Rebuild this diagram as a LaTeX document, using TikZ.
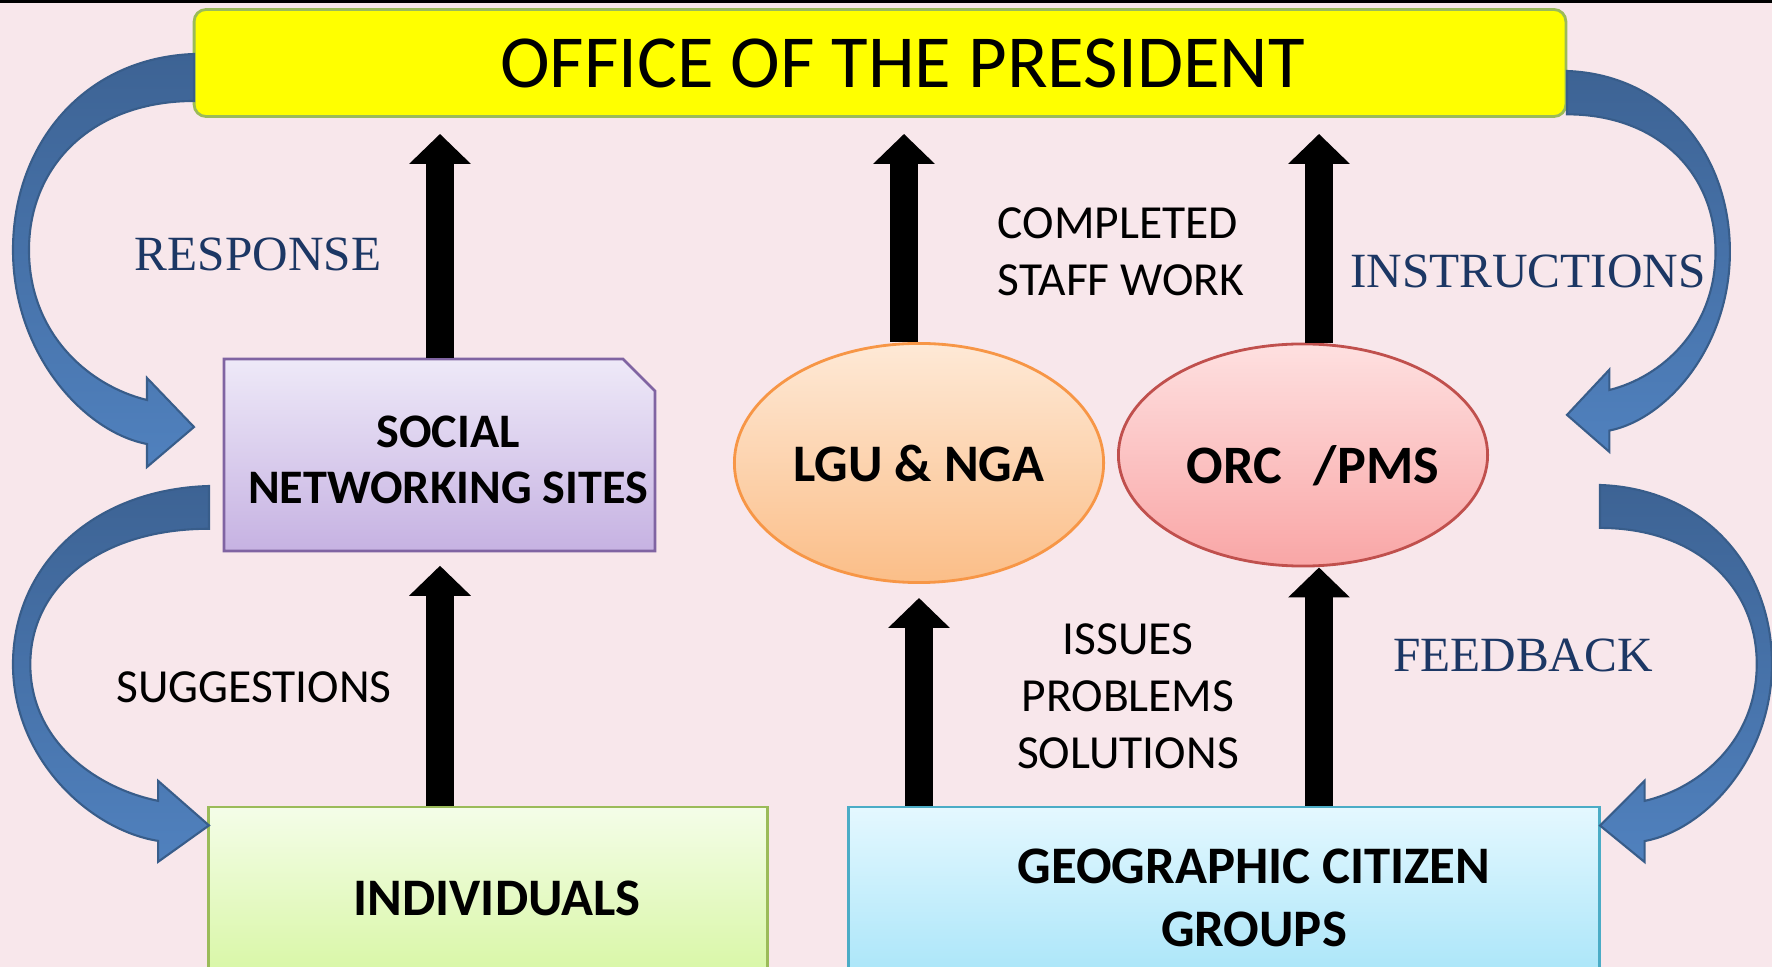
\documentclass[tikz,border=0pt]{standalone}
\usepackage{fontspec}
\setmainfont{Carlito}
\newfontfamily\labelserif{Liberation Serif}
\usetikzlibrary{shapes.geometric, arrows.meta, calc}

\definecolor{bgedge}{RGB}{248,231,235}
\definecolor{bgmid}{RGB}{252,248,248}
\definecolor{officefill}{RGB}{255,255,0}
\definecolor{officeedge}{RGB}{155,187,89}
\definecolor{socialtop}{RGB}{238,233,248}
\definecolor{socialbot}{RGB}{198,178,226}
\definecolor{socialedge}{RGB}{128,100,162}
\definecolor{lgutop}{RGB}{254,233,214}
\definecolor{lgubot}{RGB}{251,190,136}
\definecolor{lguedge}{RGB}{247,150,70}
\definecolor{orctop}{RGB}{254,224,224}
\definecolor{orcbot}{RGB}{249,166,166}
\definecolor{orcedge}{RGB}{192,80,77}
\definecolor{indivtop}{RGB}{244,253,232}
\definecolor{indivbot}{RGB}{214,246,160}
\definecolor{geotop}{RGB}{228,248,255}
\definecolor{geobot}{RGB}{166,228,248}
\definecolor{geoedge}{RGB}{75,172,198}
\definecolor{curvedark}{RGB}{61,99,148}
\definecolor{curvelight}{RGB}{80,129,190}
\definecolor{curveedge}{RGB}{56,93,138}
\definecolor{labelblue}{RGB}{28,55,100}

% curved side arrow, tail at the origin
\newcommand\sidecurve[1]{%
	\begin{scope}[#1]
		\draw[curvearrow] (0,0) .. controls (-110,-4) and (-181,-90) .. (-181,-196)
		.. controls (-181,-300) and (-110,-378) .. (-47,-390)
		-- (-47,-413) -- (0,-373) -- (-47,-324) -- (-47,-346)
		.. controls (-105,-332) and (-165,-280) .. (-165,-196)
		.. controls (-165,-110) and (-100,-47) .. (0,-47) -- cycle;
	\end{scope}}

\tikzset{
	boxbase/.style={draw, line width=0.8pt, inner sep=0pt, align=center},
	officebox/.style={boxbase, rounded corners=0.12cm, fill=officefill, draw=officeedge,
		minimum width=13.71cm, minimum height=1.07cm, font=\fontsize{21.3}{24}\selectfont},
	socialspot/.style={inner sep=0pt, minimum width=4.31cm, minimum height=1.92cm},
	agency/.style={boxbase, ellipse, minimum width=3.69cm, font=\bfseries\fontsize{15}{18}\selectfont},
	groupbox/.style={boxbase, minimum height=1.82cm, font=\bfseries\fontsize{15}{18}\selectfont},
	boxtext/.style={align=center, inner sep=0pt},
	uparrow/.style={line width=0.28cm, -{Triangle[width=0.6cm,length=0.3cm]}},
	curvearrow/.style={draw=curveedge, line width=0.6pt, top color=curvedark, bottom color=curvelight},
	sidelabel/.style={font=\labelserif\fontsize{14}{17}\selectfont, text=labelblue, inner sep=0pt},
	notelabel/.style={font=\fontsize{13.5}{16.2}\selectfont, inner sep=0pt},
}

\begin{document}
\begin{tikzpicture}[x=0.01cm, y=0.01cm]
	
	\useasboundingbox (0,0) rectangle (1772,-967);
	\clip (0,0) rectangle (1772,-967);
	\fill[left color=bgedge, middle color=bgmid, right color=bgedge] (0,0) rectangle (1772,-967);
	\fill[black] (0,0) rectangle (1772,-3);
	
	% boxes
	\node[officebox] (office) at (880,-63) {\hspace*{0.45cm}OFFICE OF THE PRESIDENT};
	
	\draw[line width=0.8pt, draw=socialedge, top color=socialtop, bottom color=socialbot]
		(224,-551) -- (224,-359) -- (623,-359) -- (655,-391) -- (655,-551) -- cycle;
	\node[socialspot] (social) at (440,-455) {};
	\node[boxtext, font=\bfseries\fontsize{13.7}{16}\selectfont] (socialtext) at (448,-460)
		{SOCIAL\\NETWORKING SITES};
	
	\node[agency, minimum height=2.39cm, draw=lguedge, top color=lgutop, bottom color=lgubot]
		(lgu) at (919,-463) {LGU \& NGA};
	\node[agency, minimum height=2.22cm, draw=orcedge, top color=orctop, bottom color=orcbot]
		(orc) at (1303,-455) {};
	\node[boxtext, font=\bfseries\fontsize{15.4}{18}\selectfont] (orctext) at (1313,-466)
		{ORC\hspace{9pt}/PMS};
	
	\node[groupbox, minimum width=5.59cm, draw=officeedge, top color=indivtop, bottom color=indivbot]
		(indiv) at (488,-898) {\hspace*{0.18cm}INDIVIDUALS};
	\node[groupbox, minimum width=7.51cm, draw=geoedge, top color=geotop, bottom color=geobot]
		(geo) at (1224,-898) {};
	\node[boxtext, font=\bfseries\fontsize{15}{18}\selectfont] (geotext) at (1254,-898)
		{GEOGRAPHIC CITIZEN\\GROUPS};
	
	% straight arrows
	\draw[uparrow] (social.north) -- ($(social.north |- office.south)+(0,-16)$);
	\draw[uparrow] ($(lgu.north)+(-15,0)$) -- ($(lgu.north |- office.south)+(-15,-16)$);
	\draw[uparrow] ($(orc.north)+(16,0)$) -- ($(orc.north |- office.south)+(16,-16)$);
	\draw[uparrow] (social.south |- indiv.north) -- ($(social.south)+(0,-14)$);
	\draw[uparrow] (lgu.south |- geo.north) -- ($(lgu.south)+(0,-14)$);
	\draw[uparrow] ($(orc.south |- geo.north)+(16,0)$) -- ($(orc.south)+(16,0)$);
	
	% curved arrows
	\sidecurve{shift={(194,-54)}}
	\sidecurve{shift={(209,-486)}, xscale=1.083, yscale=0.91}
	\sidecurve{shift={(1567,-71)}, xscale=-0.9, yscale=0.922}
	\sidecurve{shift={(1600,-485)}, xscale=-0.95, yscale=0.913}
	
	% labels
	\node[sidelabel] (response) at (258,-254) {RESPONSE};
	\node[sidelabel] (instr) at (1528,-271) {INSTRUCTIONS};
	\node[sidelabel] (feedback) at (1523,-655) {FEEDBACK};
	\node[notelabel] (suggest) at (254,-687) {SUGGESTIONS};
	\node[notelabel, anchor=west, align=left] (staffwork) at (997,-252) {COMPLETED\\STAFF WORK};
	\node[notelabel, align=center] (issues) at (1128,-696) {ISSUES\\PROBLEMS\\SOLUTIONS};
	
\end{tikzpicture}
\end{document}
